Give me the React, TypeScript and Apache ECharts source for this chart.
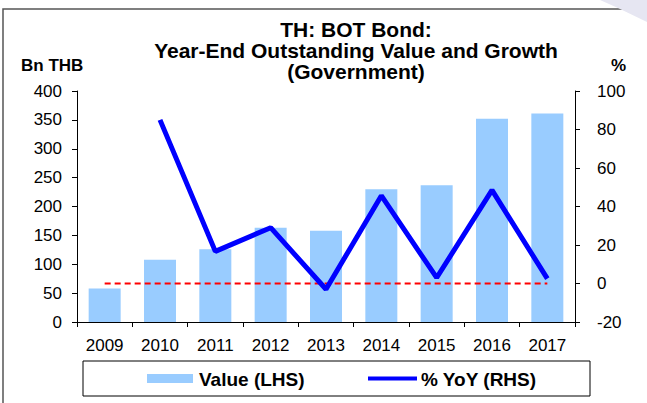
import React, { useEffect, useRef } from "react";
import * as echarts from "echarts";

const years = ["2009", "2010", "2011", "2012", "2013", "2014", "2015", "2016", "2017"];
const values = [58, 108, 126, 163, 158, 230, 237, 352, 361];
const yoy: (number | null)[] = [null, 85, 16.7, 29, -3, 45.6, 3, 48.5, 2.5];
const zeroLine = [0, 0, 0, 0, 0, 0, 0, 0, 0];
const titleLines = ["TH: BOT Bond:", "Year-End Outstanding Value and Growth", "(Government)"];

const FONT = "'Liberation Sans', Arial, sans-serif";

export default function App() {
  const ref = useRef<HTMLDivElement>(null);
  useEffect(() => {
    document.body.style.margin = "0";
    if (!ref.current) return;
    const chart = echarts.init(ref.current, undefined, { renderer: "svg" });
    chart.setOption({
      animation: false,
      backgroundColor: "#ffffff",
      textStyle: { fontFamily: FONT },
      grid: { left: 77, right: 72, top: 91, bottom: 81 },
      xAxis: {
        type: "category",
        data: years,
        boundaryGap: true,
        axisLine: { lineStyle: { color: "#000", width: 1 } },
        axisTick: { show: true, length: 5, lineStyle: { color: "#000" } },
        axisLabel: { color: "#000", fontSize: 17, margin: 15, fontFamily: FONT },
      },
      yAxis: [
        {
          type: "value",
          min: 0,
          max: 400,
          interval: 50,
          splitLine: { show: false },
          axisLine: { show: true, lineStyle: { color: "#000" } },
          axisTick: { show: true, length: 5, lineStyle: { color: "#000" } },
          axisLabel: { color: "#000", fontSize: 17, margin: 15, fontFamily: FONT },
        },
        {
          type: "value",
          min: -20,
          max: 100,
          interval: 20,
          position: "right",
          splitLine: { show: false },
          axisLine: { show: true, lineStyle: { color: "#000" } },
          axisTick: { show: true, length: 5, lineStyle: { color: "#000" } },
          axisLabel: { color: "#000", fontSize: 17, margin: 22, fontFamily: FONT },
        },
      ],
      series: [
        {
          name: "Value (LHS)",
          type: "bar",
          data: values,
          yAxisIndex: 0,
          barWidth: 32,
          itemStyle: { color: "#99CCFF" },
        },
        {
          name: "zero",
          type: "line",
          data: zeroLine,
          yAxisIndex: 1,
          symbol: "none",
          lineStyle: { color: "#FF0000", width: 2, type: [6, 4] },
          z: 3,
        },
        {
          name: "% YoY (RHS)",
          type: "line",
          data: yoy,
          yAxisIndex: 1,
          symbol: "none",
          lineStyle: { color: "#0000FF", width: 5 },
          z: 4,
        },
      ],
      graphic: [
        {
          type: "rect",
          shape: { x: 3, y: 9, width: 700, height: 450 },
          style: { fill: "none", stroke: "#555", lineWidth: 1.5 },
          silent: true,
        },
        {
          type: "polygon",
          shape: { points: [[600, 0], [647, 0], [647, 22], [618, 8]] },
          style: { fill: "#E6E6F2" },
          silent: true,
        },
        {
          type: "text",
          x: 356,
          y: 29,
          style: { text: titleLines[0], font: `bold 21px ${FONT}`, fill: "#000", align: "center", verticalAlign: "middle" },
        },
        {
          type: "text",
          x: 356,
          y: 50,
          style: { text: titleLines[1], font: `bold 21px ${FONT}`, fill: "#000", align: "center", verticalAlign: "middle" },
        },
        {
          type: "text",
          x: 356,
          y: 71,
          style: { text: titleLines[2], font: `bold 21px ${FONT}`, fill: "#000", align: "center", verticalAlign: "middle" },
        },
        {
          type: "text",
          x: 21,
          y: 65,
          style: { text: "Bn THB", font: `bold 17px ${FONT}`, fill: "#000", align: "left", verticalAlign: "middle" },
        },
        {
          type: "text",
          x: 611,
          y: 65,
          style: { text: "%", font: `bold 17px ${FONT}`, fill: "#000", align: "left", verticalAlign: "middle" },
        },
        {
          type: "rect",
          shape: { x: 83, y: 361, width: 507, height: 35 },
          style: { fill: "#fff", stroke: "#000", lineWidth: 1 },
        },
        {
          type: "rect",
          shape: { x: 147, y: 374, width: 46, height: 9 },
          style: { fill: "#99CCFF" },
        },
        {
          type: "text",
          x: 199,
          y: 379,
          style: { text: "Value (LHS)", font: `bold 19px ${FONT}`, fill: "#000", align: "left", verticalAlign: "middle" },
        },
        {
          type: "line",
          shape: { x1: 368, y1: 378.5, x2: 417, y2: 378.5 },
          style: { stroke: "#0000FF", lineWidth: 4 },
        },
        {
          type: "text",
          x: 421,
          y: 379,
          style: { text: "% YoY (RHS)", font: `bold 19px ${FONT}`, fill: "#000", align: "left", verticalAlign: "middle" },
        },
      ],
    });
    return () => chart.dispose();
  }, []);
  return <div ref={ref} style={{ width: 647, height: 403 }} />;
}
